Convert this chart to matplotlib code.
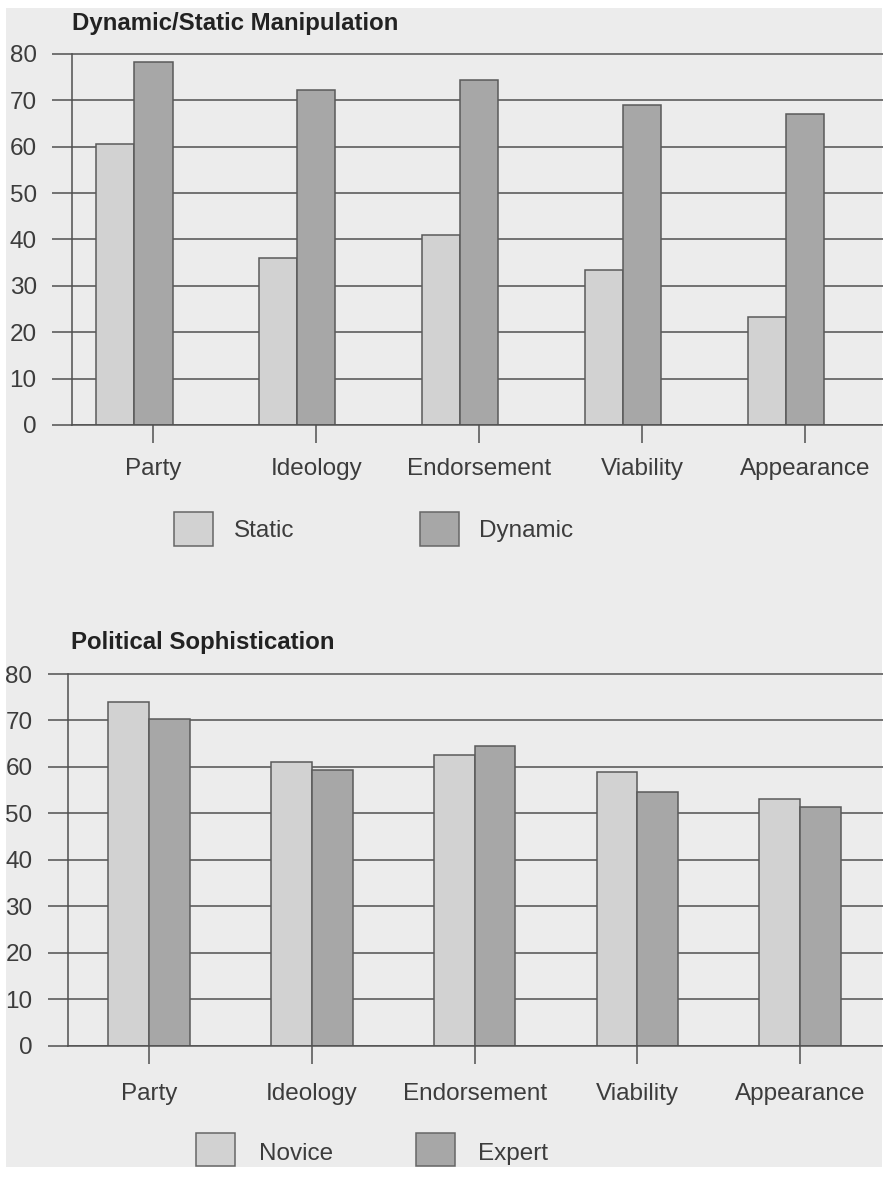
import numpy as np
import matplotlib
matplotlib.use("Agg")
import matplotlib.pyplot as plt
from matplotlib.patches import Rectangle

plt.rcParams['font.family'] = ['Liberation Sans', 'DejaVu Sans']

categories = ["Party", "Ideology", "Endorsement", "Viability", "Appearance"]

# Dynamic/Static Manipulation
static = [60.5, 36.1, 41.0, 33.4, 23.2]
dynamic = [78.3, 72.2, 74.5, 69.0, 67.0]

# Political Sophistication
novice = [74.0, 61.1, 62.6, 58.9, 53.0]
expert = [70.3, 59.4, 64.4, 54.5, 51.3]

yticks = [0, 10, 20, 30, 40, 50, 60, 70, 80]

W, H = 883, 1192
light = '#d2d2d2'
dark = '#a7a7a7'
edge = '#5a5a5a'
line_col = '#505050'
text_col = '#3c3c3c'
fs = 17.5

fig = plt.figure(figsize=(W / 100, H / 100), dpi=100)
fig.patch.set_facecolor('white')
fig.patches.append(Rectangle((6 / W, 1 - 1167 / H), 876 / W, 1159 / H,
                             transform=fig.transFigure, facecolor='#ececec',
                             edgecolor='none', zorder=-10))


def make_axes(left_px, y0_px, px_per10, step_px, xpad):
    ymax = 82
    top_px = y0_px - ymax * px_per10 / 10
    ax = fig.add_axes([left_px / W, 1 - y0_px / H, (W - left_px) / W, (y0_px - top_px) / H])
    ax.set_facecolor('none')
    ax.set_xlim(-0.5, -0.5 + (W - left_px) / step_px)
    ax.set_ylim(0, ymax)
    ax.set_yticks(yticks)
    ax.set_xticks(np.arange(len(categories)))
    ax.set_xticklabels(categories)
    ax.spines['top'].set_visible(False)
    ax.spines['right'].set_visible(False)
    ax.spines['left'].set_bounds(0, 80)
    for s in ['left', 'bottom']:
        ax.spines[s].set_color(line_col)
        ax.spines[s].set_linewidth(1.1)
    ax.set_axisbelow(True)
    ax.yaxis.grid(True, color=line_col, linewidth=1.1)
    ax.tick_params(axis='y', length=14.4, width=1.1, color=line_col, pad=11,
                   labelsize=fs, labelcolor=text_col)
    ax.tick_params(axis='x', length=13, width=1.1, color=line_col, pad=xpad,
                   labelsize=fs, labelcolor=text_col)
    return ax


def legend(labels, boxes_x, text_x, y_top, y_bot, text_y):
    for lab, bx, tx, col in zip(labels, boxes_x, text_x, [light, dark]):
        fig.add_artist(Rectangle((bx / W, 1 - y_bot / H), 39 / W, (y_bot - y_top) / H,
                                 transform=fig.transFigure, facecolor=col,
                                 edgecolor='#666666', linewidth=1.1))
        fig.text(tx / W, 1 - text_y / H, lab, fontsize=fs,
                 color=text_col, va='center', ha='left')


x = np.arange(len(categories))

# top chart
ax1 = make_axes(72, 425, 46.375, 162.9, 11)
w1 = 0.235
ax1.bar(x - w1, static, w1, color=light, edgecolor=edge, linewidth=1.1)
ax1.bar(x, dynamic, w1, color=dark, edgecolor=edge, linewidth=1.1)
fig.text(72 / W, 1 - 30 / H, "Dynamic/Static Manipulation", fontsize=17.3,
         fontweight='bold', color='#222222', va='baseline')
legend(["Static", "Dynamic"], [174, 420], [234, 479], 512, 546, 531)

# bottom chart
ax2 = make_axes(67.7, 1045.7, 46.46, 162.75, 13.5)
w2 = 0.25
ax2.bar(x - w2 / 2, novice, w2, color=light, edgecolor=edge, linewidth=1.1)
ax2.bar(x + w2 / 2, expert, w2, color=dark, edgecolor=edge, linewidth=1.1)
fig.text(71 / W, 1 - 649 / H, "Political Sophistication", fontsize=17.3,
         fontweight='bold', color='#222222', va='baseline')
legend(["Novice", "Expert"], [196, 416], [259, 478], 1133, 1166, 1154)

plt.savefig("out.png", dpi=100)
plt.close(fig)
